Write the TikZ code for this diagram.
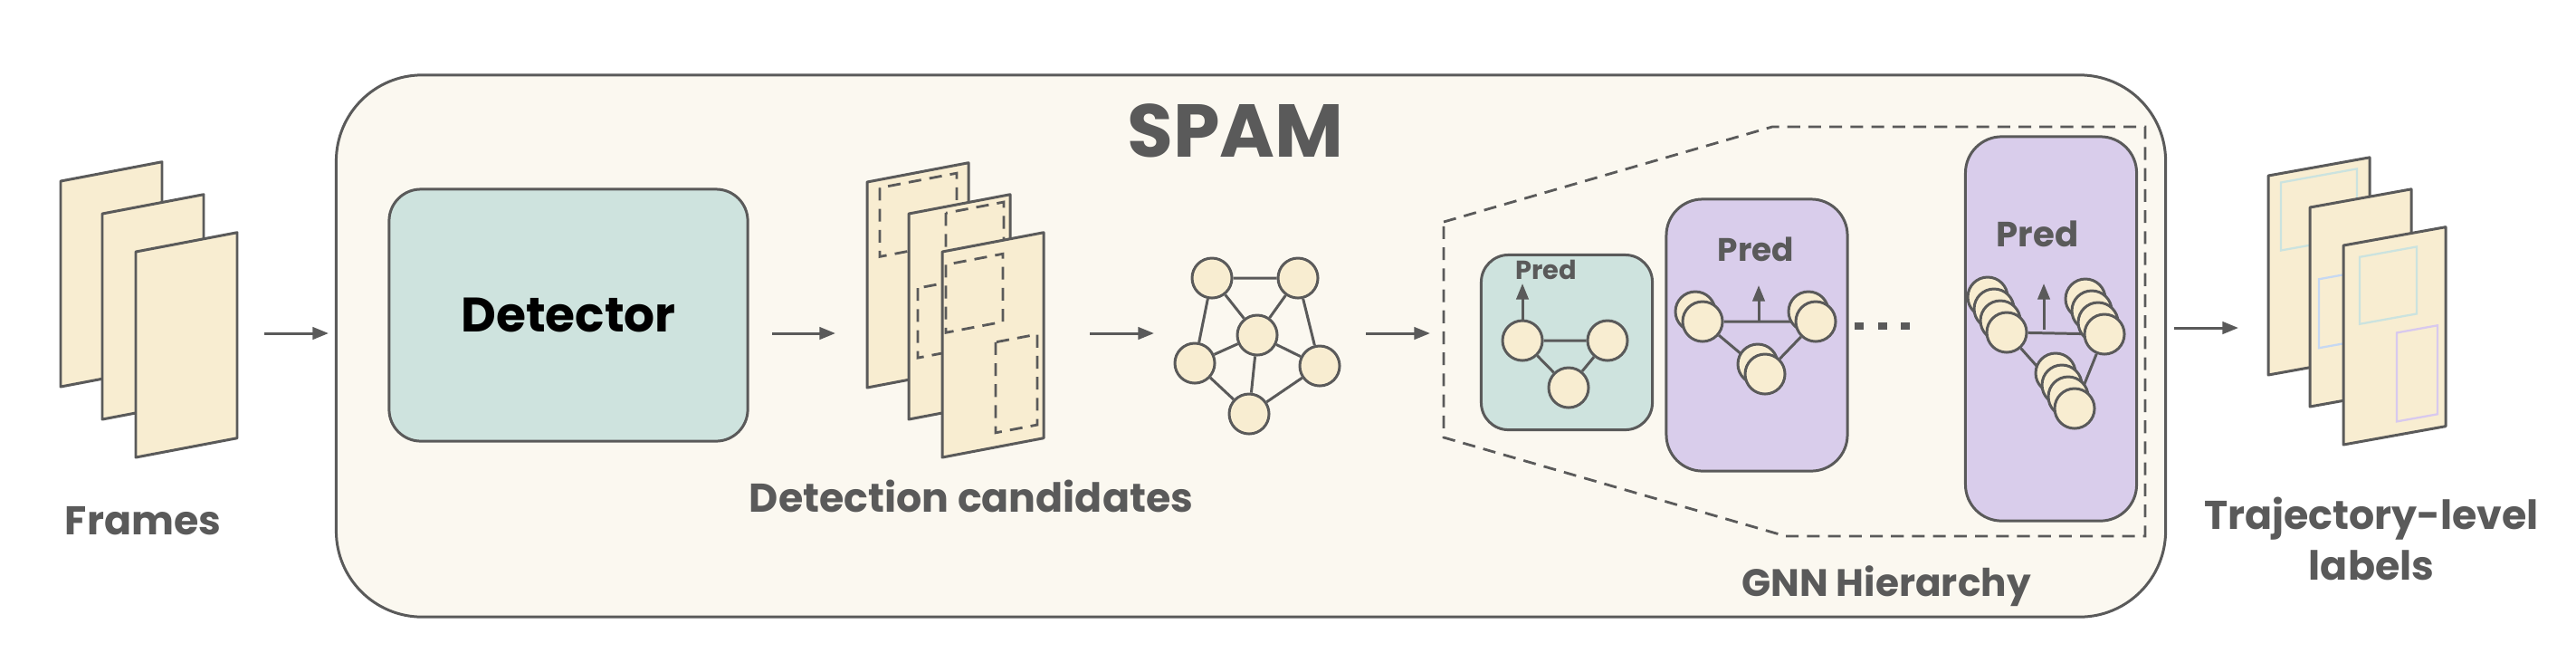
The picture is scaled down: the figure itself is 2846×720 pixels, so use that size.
\documentclass[tikz,border=0pt]{standalone}
\usepackage{fontspec}
\setmainfont{Poppins}
\usetikzlibrary{arrows.meta,positioning}
\pgfdeclarelayer{back}
\pgfdeclarelayer{mid}
\pgfsetlayers{back,mid,main}
\definecolor{ink}{HTML}{5A5A5A}
\definecolor{paper}{HTML}{F8EDD1}
\definecolor{spambg}{HTML}{FBF8F0}
\definecolor{tealbox}{HTML}{CEE3DE}
\definecolor{lilac}{HTML}{D9CDEB}
\definecolor{trackteal}{HTML}{CBE3DF}
\definecolor{trackblue}{HTML}{C6D8F2}
\definecolor{trackviolet}{HTML}{D8C9EE}

\begin{document}
\begin{tikzpicture}[x=0.01cm,y=-0.01cm]
    \tikzstyle{sheet}=[draw=ink,fill=paper,line width=0.85pt,line join=round]
    \tikzstyle{cand box}=[draw=ink,line width=0.8pt,dash pattern=on 4pt off 2.6pt]
    \tikzstyle{track box}=[line width=0.65pt]
    \tikzstyle{flow}=[draw=ink,line width=0.85pt,-{Triangle[length=5pt,width=3.8pt]}]
    \tikzstyle{link}=[draw=ink,line width=0.85pt]
    \tikzstyle{graph node}=[circle,draw=ink,fill=paper,line width=0.85pt,minimum size=0.44cm,inner sep=0pt]
    \tikzstyle{level box}=[draw=ink,line width=0.85pt,rounded corners=0.3cm]
    \tikzstyle{caption}=[text=ink,font=\bfseries\fontsize{12.6}{16}\selectfont,align=center,anchor=base,inner sep=0pt]
    \tikzstyle{pred label}=[text=ink,anchor=base,inner sep=0pt]

    \useasboundingbox (0,0) rectangle (2846,720);

    % boxes
    \begin{pgfonlayer}{back}
    \node[draw=ink,fill=spambg,line width=0.85pt,rounded corners=0.95cm,minimum width=20.2cm,minimum height=5.98cm] (spam) at (1382,382) {};
    \node[draw=ink,fill=tealbox,line width=0.85pt,rounded corners=0.35cm,minimum width=3.96cm,minimum height=2.78cm,font=\bfseries\fontsize{15.2}{18}\selectfont] (detector) at (628,348) {Detector};
    \draw[cand box] (1595,245) -- (1958,140) -- (2370,140) -- (2370,592) -- (1973,592) -- (1595,483) -- cycle;
    \node[level box,fill=tealbox,minimum width=1.89cm,minimum height=1.93cm] (level1) at (1731,378) {};
    \node[level box,fill=lilac,rounded corners=0.4cm,minimum width=2cm,minimum height=3cm] (level2) at (1941,370) {};
    \node[level box,fill=lilac,rounded corners=0.4cm,minimum width=1.89cm,minimum height=4.24cm] (level3) at (2266,363) {};
    \end{pgfonlayer}

    % input frames
    \foreach \sx/\sy in {67/200,113/236,150/278}
        \draw[sheet,shift={(\sx,\sy)},yslant=0.19] (0,0) rectangle (112,227);

    % detection candidates
    \begin{scope}[shift={(958,201)},yslant=0.19]
        \draw[sheet] (0,0) rectangle (112,227);
        \draw[cand box] (14,9) rectangle (99,85);
    \end{scope}
    \begin{scope}[shift={(1004,236)},yslant=0.19]
        \draw[sheet] (0,0) rectangle (112,227);
        \draw[cand box] (41,7) rectangle (105,82);
        \draw[cand box] (10,84) rectangle (70,161);
    \end{scope}
    \begin{scope}[shift={(1041,278)},yslant=0.19]
        \draw[sheet] (0,0) rectangle (112,227);
        \draw[cand box] (4,15) rectangle (67,90);
        \draw[cand box] (59,111) rectangle (105,211);
    \end{scope}

    % trajectory-level labels
    \begin{scope}[shift={(2506,194)},yslant=0.18]
        \draw[sheet] (0,0) rectangle (112,220);
        \draw[track box,draw=trackteal] (14,10) rectangle (98,85);
    \end{scope}
    \begin{scope}[shift={(2552,229)},yslant=0.18]
        \draw[sheet] (0,0) rectangle (112,220);
        \draw[track box,draw=trackblue] (10,81) rectangle (80,157);
    \end{scope}
    \begin{scope}[shift={(2589,271)},yslant=0.18]
        \draw[sheet] (0,0) rectangle (113,220);
        \draw[track box,draw=trackteal] (18,16) rectangle (81,90);
        \draw[track box,draw=trackviolet] (59,107) rectangle (104,205);
    \end{scope}

    % detection graph
    \node[graph node] (g1) at (1339,307) {};
    \node[graph node] (g2) at (1434,307) {};
    \node[graph node] (g3) at (1389,370) {};
    \node[graph node] (g4) at (1320,401) {};
    \node[graph node] (g5) at (1458,404) {};
    \node[graph node] (g6) at (1380,457) {};
    \draw[link] (g1) -- (g2) (g1) -- (g4) (g1) -- (g3) (g2) -- (g3) (g2) -- (g5)
        (g3) -- (g4) (g3) -- (g5) (g3) -- (g6) (g4) -- (g6) (g5) -- (g6);

    % level 1
    \node[pred label,font=\bfseries\fontsize{8.2}{10}\selectfont] (pred1) at (1708,308) {Pred};
    \node[graph node] (a1) at (1682,376) {};
    \node[graph node] (a2) at (1776,376) {};
    \node[graph node] (a3) at (1733,428) {};
    \coordinate (up1) at (1682,313);
    \draw[flow] (a1) -- (up1);

    % level 2
    \node[pred label,font=\bfseries\fontsize{10.2}{12}\selectfont] (pred2) at (1940,288) {Pred};
    \node[graph node] at (1873,344) {};
    \node[graph node] (b1) at (1881,355) {};
    \node[graph node] at (1998,344) {};
    \node[graph node] (b2) at (2006,355) {};
    \node[graph node] at (1942,402) {};
    \node[graph node] (b3) at (1950,413) {};
    \coordinate (mid2) at (1943,355);
    \coordinate (up2) at (1943,315);
    \draw[flow] (mid2) -- (up2);

    % level 3
    \node[pred label,font=\bfseries\fontsize{11}{13}\selectfont] (pred3) at (2251,272) {Pred};
    \foreach \k in {0,1,2} {
        \node[graph node] at (2196+7*\k,328+13*\k) {};
        \node[graph node] at (2304+7*\k,330+13*\k) {};
        \node[graph node] at (2271+7*\k,412+13*\k) {};
    }
    \node[graph node] (c1) at (2217,367) {};
    \node[graph node] (c2) at (2325,369) {};
    \node[graph node] (c3) at (2292,451) {};
    \coordinate (mid3) at (2258,364);
    \coordinate (up3) at (2258,313);
    \draw[flow] (mid3) -- (up3);

    \begin{pgfonlayer}{mid}
    \draw[link] (a1) -- (a2) (a1) -- (a3) (a2) -- (a3);
    \draw[link] (b1) -- (b2) (b1) -- (b3) (b2) -- (b3);
    \draw[link] (c1) -- (c2) (c1) -- (c3) (c2) -- (c3);
    \end{pgfonlayer}

    % dots between levels
    \foreach \dx in {2054,2080,2105}
        \fill[ink] (\dx-5,356) rectangle (\dx+5,364);

    % arrows
    \coordinate (in1) at (292,368);  \coordinate (out1) at (363,368);
    \coordinate (in2) at (853,368);  \coordinate (out2) at (923,368);
    \coordinate (in3) at (1204,368); \coordinate (out3) at (1275,368);
    \coordinate (in4) at (1509,368); \coordinate (out4) at (1580,368);
    \coordinate (in5) at (2402,362); \coordinate (out5) at (2473,362);
    \foreach \i in {1,...,5}
        \draw[flow] (in\i) -- (out\i);

    % labels
    \node[caption,font=\bfseries\fontsize{23.5}{28}\selectfont] (spamtitle) at (1365,173) {SPAM};
    \node[caption] (frameslabel) at (158,590) {Frames};
    \node[caption] (candlabel) at (1073,565) {Detection candidates};
    \node[caption,font=\bfseries\fontsize{12}{14}\selectfont] (gnnlabel) at (2084,658) {GNN Hierarchy};
    \node[caption,anchor=north] (tracklabel) at (2620,548) {Trajectory-level\\labels};
\end{tikzpicture}
\end{document}
